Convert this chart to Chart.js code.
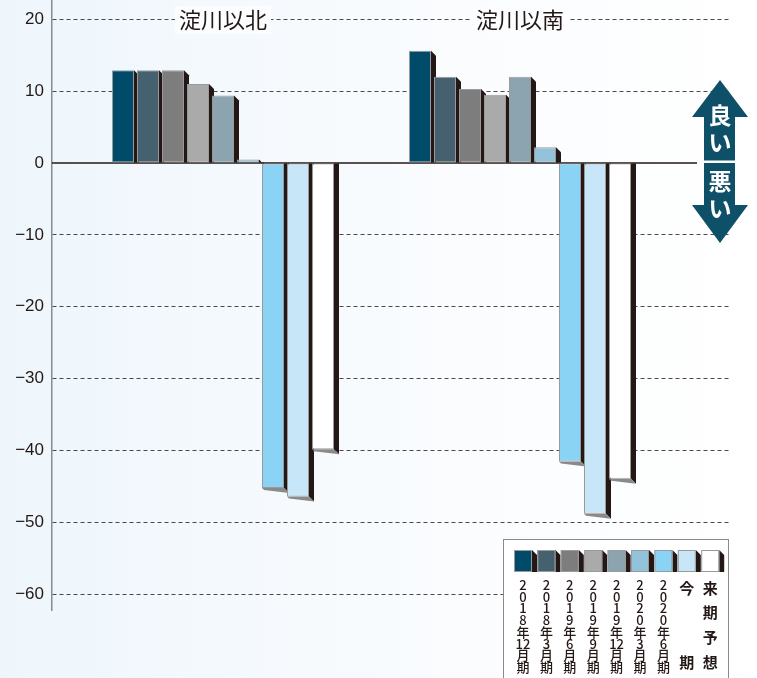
<!DOCTYPE html>
<html>
<head>
<meta charset="utf-8">
<script src="https://cdn.jsdelivr.net/npm/chart.js@4.4.0/dist/chart.umd.min.js"></script>
<style>
  body { margin: 0; background: #f4f9fd; }
  #wrap { width: 757px; height: 678px; }
</style>
</head>
<body>
<div id="wrap"><canvas id="myChart" width="757" height="678"></canvas></div>
<script>
'use strict';
// ---------- Data ------------- //
let groups = ['淀川以北', '淀川以南'];
let seriesLabels = ['2018年12月期', '2018年3月期', '2019年6月期', '2019年9月期', '2019年12月期', '2020年3月期', '2020年6月期', '今期', '来期予想'];
let seriesColors = ['#004a6a', '#45606e', '#7d7d7d', '#a9aaa9', '#8ca3b0', '#93c3da', '#8ad3f4', '#c7e7f9', '#ffffff'];
let northValues = [12.9, 12.9, 12.9, 11.0, 9.4, 0.5, -45.2, -46.4, -39.8];
let southValues = [15.6, 12.0, 10.3, 9.5, 12.0, 2.2, -41.5, -48.8, -43.9];
let yTicks = [20, 10, 0, -10, -20, -30, -40, -50, -60];

let shadowColor = '#231815';
let depth = 5;
let jpFont = '"Noto Sans CJK JP", "Noto Sans", sans-serif';

// ---------- Helpers ------------- //
function drawDepth(ctx, left, right, top, bottom, positive){
    ctx.fillStyle = shadowColor;
    ctx.beginPath();
    if (positive){
        ctx.moveTo(right, top);
        ctx.lineTo(right + depth, top + depth);
        ctx.lineTo(right + depth, bottom);
        ctx.lineTo(right, bottom);
    } else {
        ctx.moveTo(right, top);
        ctx.lineTo(right + depth, top);
        ctx.lineTo(right + depth, bottom + depth);
        ctx.lineTo(right, bottom);
    }
    ctx.closePath();
    ctx.fill();
    if (!positive){
        ctx.fillStyle = '#8a8a8a';
        ctx.beginPath();
        ctx.moveTo(left, bottom);
        ctx.lineTo(right, bottom);
        ctx.lineTo(right + depth, bottom + depth);
        ctx.lineTo(left + 2, bottom + 2);
        ctx.closePath();
        ctx.fill();
    }
}

// split "2018年12月期" into vertical rows, keeping "12" together
function verticalTokens(label){
    return label.match(/1[0-2](?=月)|./g);
}

// ---------- Plugins ------------- //
let backgroundPlugin = {
    id: 'background',
    beforeDraw(chart){
        let ctx = chart.ctx;
        let g = ctx.createLinearGradient(0, 0, chart.width, 0);
        g.addColorStop(0, '#eef6fc');
        g.addColorStop(0.6, '#fafcfe');
        g.addColorStop(1, '#ffffff');
        ctx.save();
        ctx.fillStyle = g;
        ctx.fillRect(0, 0, chart.width, chart.height);
        ctx.restore();
    }
};

let depthPlugin = {
    id: 'depth',
    beforeDatasetsDraw(chart){
        let ctx = chart.ctx;
        let yScale = chart.scales.y;
        let zero = yScale.getPixelForValue(0);
        ctx.save();
        // zero line
        ctx.strokeStyle = '#231815';
        ctx.lineWidth = 1.5;
        ctx.beginPath();
        ctx.moveTo(chart.chartArea.left, zero);
        ctx.lineTo(697, zero);
        ctx.stroke();
        chart.data.datasets.forEach((ds, i) => {
            let meta = chart.getDatasetMeta(i);
            meta.data.forEach(bar => {
                let left = bar.x - bar.width / 2;
                let right = bar.x + bar.width / 2;
                let positive = bar.y < bar.base;
                let top = Math.min(bar.y, bar.base);
                let bottom = Math.max(bar.y, bar.base);
                drawDepth(ctx, left, right, top, bottom, positive);
            });
        });
        ctx.restore();
    }
};

let decorPlugin = {
    id: 'decor',
    afterDraw(chart){
        let ctx = chart.ctx;
        let xScale = chart.scales.x;
        ctx.save();

        // group titles
        ctx.font = '22px ' + jpFont;
        ctx.textAlign = 'center';
        ctx.textBaseline = 'middle';
        groups.forEach((name, i) => {
            let cx = xScale.getPixelForValue(i);
            let w = ctx.measureText(name).width + 8;
            ctx.fillStyle = '#fbfdff';
            ctx.fillRect(cx - w / 2, 6, w, 28);
            ctx.fillStyle = '#231815';
            ctx.fillText(name, cx, 20);
        });

        // good / bad arrow
        ctx.fillStyle = '#0f5069';
        ctx.beginPath();
        ctx.moveTo(720, 80);
        ctx.lineTo(748, 117);
        ctx.lineTo(735, 117);
        ctx.lineTo(735, 205);
        ctx.lineTo(748, 205);
        ctx.lineTo(720, 243);
        ctx.lineTo(692, 205);
        ctx.lineTo(704, 205);
        ctx.lineTo(704, 117);
        ctx.lineTo(692, 117);
        ctx.closePath();
        ctx.fill();
        ctx.fillStyle = '#ffffff';
        ctx.fillRect(704, 160.5, 31, 2.5);
        ctx.font = 'bold 23px ' + jpFont;
        ctx.fillText('良', 720, 115);
        ctx.fillText('い', 720, 142);
        ctx.fillText('悪', 720, 181);
        ctx.fillText('い', 720, 208);

        // legend box
        ctx.fillStyle = '#ffffff';
        ctx.fillRect(503, 539, 225, 150);
        ctx.strokeStyle = '#8a8a8a';
        ctx.lineWidth = 1;
        ctx.strokeRect(503.5, 539.5, 225, 150);

        chart.data.datasets.forEach((ds, i) => {
            let sx = 514 + i * 23.4;
            let sy = 550;
            drawDepth(ctx, sx, sx + 18, sy, sy + 22, true);
            ctx.fillStyle = ds.backgroundColor;
            ctx.fillRect(sx, sy, 18, 22);
            ctx.strokeStyle = '#9a9a9a';
            ctx.strokeRect(sx + 0.5, sy + 0.5, 17, 21);

            let cx = sx + 9;
            let tokens = verticalTokens(ds.label);
            ctx.fillStyle = '#231815';
            if (tokens.length >= 8){
                ctx.font = '500 13px ' + jpFont;
                let step = (667 - 585) / (tokens.length - 1);
                tokens.forEach((t, k) => ctx.fillText(t, cx, 585 + k * step));
            } else {
                ctx.font = 'bold 15px ' + jpFont;
                let step = (662 - 588) / (tokens.length - 1);
                tokens.forEach((t, k) => ctx.fillText(t, cx, 588 + k * step));
            }
        });
        ctx.restore();
    }
};

// ---------- Chart ------------- //
let datasets = seriesLabels.map((label, i) => ({
    label: label,
    data: [{x: 0, y: northValues[i]}, {x: 1, y: southValues[i]}],
    backgroundColor: seriesColors[i],
    borderColor: '#9a9a9a',
    borderWidth: 1,
    borderSkipped: false,
    categoryPercentage: 0.7576,
    barPercentage: 0.88
}));

let ctx = document.getElementById('myChart').getContext('2d');
let myChart = new Chart(ctx, {
    type: 'bar',
    data: { datasets: datasets },
    options: {
        responsive: false,
        animation: false,
        layout: { padding: { left: 0, right: 27, top: 0, bottom: 68 } },
        plugins: {
            legend: { display: false },
            tooltip: { enabled: false }
        },
        scales: {
            x: {
                type: 'linear',
                display: false,
                offset: false,
                min: -0.5758,
                max: 1.7071,
                afterBuildTicks: scale => { scale.ticks = groups.map((g, i) => ({value: i})); }
            },
            y: {
                min: -62.17,
                max: 22.67,
                afterBuildTicks: scale => { scale.ticks = yTicks.map(v => ({value: v})); },
                afterFit: scale => {
                    scale.width = 52;
                    scale.paddingTop = 0;
                    scale.paddingBottom = 0;
                },
                ticks: {
                    padding: 8,
                    color: '#231815',
                    font: { family: '"Liberation Sans", Arial, sans-serif', size: 17 },
                    callback: v => v < 0 ? '\u2212' + Math.abs(v) : String(v)
                },
                grid: {
                    drawTicks: false,
                    lineWidth: 1,
                    color: c => c.tick && c.tick.value === 0 ? 'rgba(0,0,0,0)' : '#4a4a4a'
                },
                border: { display: true, color: '#8a8a8a', width: 1.5, dash: [4, 3] }
            }
        }
    },
    plugins: [backgroundPlugin, depthPlugin, decorPlugin]
});
</script>
</body>
</html>
